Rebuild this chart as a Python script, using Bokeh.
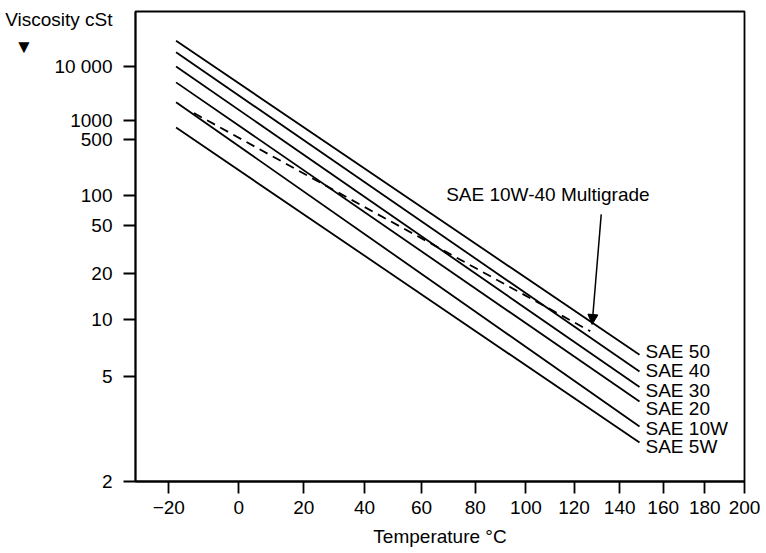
import numpy as np
from bokeh.plotting import figure
from bokeh.models import (Range1d, FixedTicker, LogAxis, Arrow, NormalHead,
                          ColumnDataSource)
from bokeh.embed import file_html
from bokeh.resources import INLINE
from bokeh.core.properties import value

# ---------------- data ----------------
grades = ["SAE 50", "SAE 40", "SAE 30", "SAE 20", "SAE 10W", "SAE 5W"]
t_start_c = [-18, -18, -18, -18, -18, -18]
t_end_c = [149, 149, 149, 149, 149, 149]
v_start_cst = [39000, 20700, 10000, 4700, 2000, 760]
v_end_cst = [6.4, 5.3, 4.5, 3.9, 3.1, 2.7]

multigrade_name = "SAE 10W-40 Multigrade"
multigrade_t_c = [-13, 127]
multigrade_v_cst = [1300, 8.55]

y_title = "Viscosity cSt"
y_tick_cst = [2, 5, 10, 20, 50, 100, 500, 1000, 10000]
y_tick_labels = ["2", "5", "10", "20", "50", "100", "500", "1000", "10 000"]
x_title = "Temperature \u00b0C"
x_tick_c = [-20, 0, 20, 40, 60, 80, 100, 120, 140, 160, 180, 200]
x_tick_labels = ["\u221220", "0", "20", "40", "60", "80", "100", "120", "140", "160", "180", "200"]

# ---------------- chart scales (Walther / ASTM D341 style) ----------------
def kelvin(t):
    return np.asarray(t, dtype=float) + 273.15

def wq(v):
    # log10(v + 0.7) drawn on a log axis -> log(log(v + 0.7))
    return np.log10(np.asarray(v, dtype=float) + 0.7)

FONT = "Liberation Sans"
FS = "19px"
LW = 1.8

p = figure(width=766, height=553, output_backend="svg", toolbar_location=None,
           x_axis_type="log", y_axis_type="log",
           x_range=Range1d(float(kelvin(-29)), float(kelvin(200))),
           y_range=Range1d(float(wq(2)), float(wq(235000))),
           min_border_left=135, min_border_right=22, min_border_top=11, min_border_bottom=72)

p.grid.visible = False
p.background_fill_color = "white"
p.border_fill_color = "white"
p.outline_line_color = "black"
p.outline_line_width = LW

# x axis
xt = [float(v) for v in kelvin(x_tick_c)]
xa = p.xaxis[0]
xa.ticker = FixedTicker(ticks=xt)
xa.major_label_overrides = {k: lab for k, lab in zip(xt, x_tick_labels)}

# inner y axis: line + tick marks only
yt = [float(v) for v in wq(y_tick_cst)]
ya = p.yaxis[0]
ya.ticker = FixedTicker(ticks=yt)
ya.major_label_overrides = {k: "" for k in yt}
ya.major_label_standoff = 0

for ax in (xa, ya):
    ax.axis_line_color = "black"
    ax.axis_line_width = LW
    ax.major_tick_line_color = "black"
    ax.major_tick_line_width = LW
    ax.major_tick_out = 12
    ax.major_tick_in = 0
    ax.minor_tick_line_color = None
    ax.major_label_text_font = FONT
    ax.major_label_text_font_size = FS
    ax.major_label_text_color = "black"

xa.major_label_standoff = 7
xa.axis_label = x_title
xa.axis_label_text_font = FONT
xa.axis_label_text_font_size = FS
xa.axis_label_text_font_style = "normal"
xa.axis_label_text_color = "black"
xa.axis_label_standoff = 9

# outer y axis: carries the tick labels plus the axis title and its marker at the top
title_pos = 5.145     # label slot near the top of the axis (log10(v+0.7) units)
marker_pos = 4.456
yl_ticks = yt + [title_pos, marker_pos]
yl_labels = y_tick_labels + [y_title, "\u25bc" + "\u00a0" * 15]
yb = LogAxis(ticker=FixedTicker(ticks=yl_ticks),
             major_label_overrides={k: lab for k, lab in zip(yl_ticks, yl_labels)},
             axis_line_color=None, major_tick_line_color=None, minor_tick_line_color=None,
             major_tick_out=0, major_tick_in=0, major_label_standoff=11,
             major_label_text_font=FONT, major_label_text_font_size=FS,
             major_label_text_color="black")
p.add_layout(yb, "left")

# grade lines
src = ColumnDataSource(dict(
    x0=kelvin(t_start_c), y0=wq(v_start_cst),
    x1=kelvin(t_end_c), y1=wq(v_end_cst),
    name=grades,
    dy=[-3, -1, 3, 7, 2, 4],
))
p.segment("x0", "y0", "x1", "y1", source=src, line_color="black", line_width=LW)
p.text("x1", "y1", text="name", source=src, x_offset=6, y_offset="dy",
       text_align="left", text_baseline="middle",
       text_font=value(FONT), text_font_size=FS, text_color="black")

# multigrade dashed line
p.line(kelvin(multigrade_t_c), wq(multigrade_v_cst), line_color="black",
       line_width=LW, line_dash="9 6")
p.text(x=[float(kelvin(109))], y=[float(wq(103))], text=[multigrade_name],
       text_align="center", text_baseline="middle",
       text_font=value(FONT), text_font_size=FS, text_color="black")
p.add_layout(Arrow(x_start=float(kelvin(131.8)), y_start=float(wq(63.7)),
                   x_end=float(kelvin(127.8)), y_end=float(wq(9.34)),
                   line_color="black", line_width=1.5,
                   end=NormalHead(size=10, fill_color="black", line_color="black")))

open("out.html", "w").write(file_html(p, INLINE))
